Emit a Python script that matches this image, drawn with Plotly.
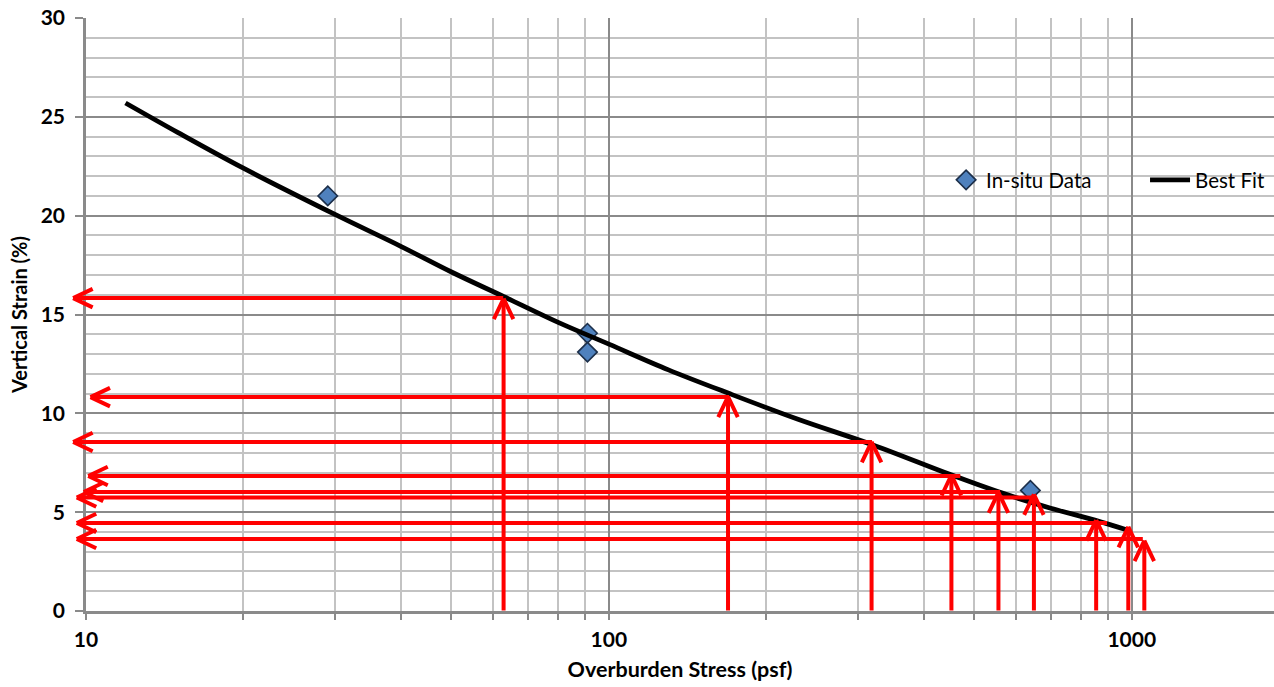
import math
import plotly.graph_objects as go

# ---------------- data ----------------
insitu_stress = [29, 91, 91, 640]
insitu_strain = [21.0, 14.05, 13.1, 6.1]

fit_stress = [11.9, 15, 20, 30, 40, 50, 63, 80, 100, 130, 170, 230, 320, 450, 560, 700, 850, 980]
fit_strain = [25.7, 24.2, 22.4, 20.05, 18.45, 17.15, 15.9, 14.6, 13.5, 12.2, 11.0, 9.7, 8.4, 6.9, 6.0, 5.2, 4.6, 4.1]

# vertical red arrows: stress position and strain reached at arrow tip
v_arrow_stress = [62.9, 169, 318, 452, 556, 650, 855, 985, 1057]
v_arrow_top = [15.8, 10.85, 8.56, 6.88, 6.0, 5.9, 4.6, 4.26, 3.56]

# horizontal red arrows: strain level, right end (stress), left tip (stress)
h_arrow_strain = [15.83, 10.82, 8.55, 6.83, 6.02, 5.74, 4.45, 3.64]
h_arrow_right = [62.8, 169.8, 318.7, 470, 560, 648, 897, 1050]
h_arrow_left = [9.45, 10.2, 9.45, 10.1, 9.9, 9.6, 9.6, 9.6]

y_ticks = [0, 5, 10, 15, 20, 25, 30]

# ---------------- layout geometry (body margin removed below) ----------------
W, H = 1274, 687
ML, MR, MT, MB = 85.7, 0, 18, 76
PLOT_W = W - ML - MR
PLOT_H = H - MT - MB
X_RANGE = [1.0, 1.0 + PLOT_W / 523.0]
Y_RANGE = [0, 30]
PX_PER_DEC = PLOT_W / (X_RANGE[1] - X_RANGE[0])
PX_PER_UNIT = PLOT_H / (Y_RANGE[1] - Y_RANGE[0])

RED = "#ff0000"
AW = 4
MAJ = "#8a8a8a"
MIN = "#c3c3c3"
FONT = "Lato"

fig = go.Figure()

fig.add_trace(go.Scatter(
    x=insitu_stress, y=insitu_strain, mode="markers", name="In-situ Data",
    marker=dict(symbol="diamond", size=15, color="#4f81bd",
                line=dict(color="#1c2f4a", width=1.6)),
    legend="legend",
))
fig.add_trace(go.Scatter(
    x=fit_stress, y=fit_strain, mode="lines", name="Best Fit",
    line=dict(color="black", width=4.8, shape="spline", smoothing=1.0),
    legend="legend2",
))

annotations = []


def seg(xh, yh, xt, yt):
    """arrow segment with head at (xh,yh) and tail at (xt,yt); x in log10 units"""
    annotations.append(dict(
        x=xh, y=yh, ax=xt, ay=yt, xref="x", yref="y", axref="x", ayref="y",
        text="", showarrow=True, arrowhead=0, arrowwidth=AW, arrowcolor=RED,
        standoff=0, startstandoff=0, font=dict(size=1), borderpad=0,
    ))


def chevron_up(lx, y):
    dx = 10 / PX_PER_DEC
    dy = 21 / PX_PER_UNIT
    seg(lx, y, lx - dx, y - dy)
    seg(lx, y, lx + dx, y - dy)


def chevron_left(lx, y):
    dx = 20 / PX_PER_DEC
    dy = 9.5 / PX_PER_UNIT
    seg(lx, y, lx + dx, y + dy)
    seg(lx, y, lx + dx, y - dy)


for xs, top in zip(v_arrow_stress, v_arrow_top):
    lx = math.log10(xs)
    seg(lx, top, lx, 0)
    chevron_up(lx, top)

for yv, xr, xl in zip(h_arrow_strain, h_arrow_right, h_arrow_left):
    seg(math.log10(xr), yv, math.log10(xl), yv)
    chevron_left(math.log10(xl), yv)

LEG_Y = (PLOT_H + MT - 180) / PLOT_H
leg_common = dict(orientation="h", yanchor="middle", xanchor="left",
                  bgcolor="rgba(0,0,0,0)",
                  font=dict(family=FONT, size=20.5, color="black"))

fig.update_layout(
    width=W, height=H,
    margin=dict(l=ML, r=MR, t=MT, b=MB, pad=0),
    paper_bgcolor="white", plot_bgcolor="white",
    showlegend=True,
    legend=dict(x=(946 - ML) / PLOT_W, y=LEG_Y, itemwidth=30, **leg_common),
    legend2=dict(x=(1145 - ML) / PLOT_W, y=LEG_Y, itemwidth=40, **leg_common),
    annotations=annotations,
)

fig.update_xaxes(
    type="log", range=X_RANGE, dtick=1, exponentformat="none",
    showgrid=True, gridcolor=MAJ, gridwidth=2,
    ticks="outside", ticklen=6, tickwidth=2, tickcolor=MAJ,
    showline=True, linecolor=MAJ, linewidth=2.5, zeroline=False,
    minor=dict(dtick="D1", showgrid=True, gridcolor=MIN, gridwidth=2,
               ticks="outside", ticklen=6, tickwidth=2, tickcolor=MAJ),
    tickfont=dict(family=FONT, size=21, color="black", weight="bold"),
    ticklabelstandoff=2, ticklabeloverflow="allow",
    title=dict(text="Overburden Stress (psf)", standoff=12,
               font=dict(family=FONT, size=21.5, color="black", weight="bold")),
    automargin=False,
)

fig.update_yaxes(
    range=Y_RANGE, tickvals=y_ticks,
    showgrid=True, gridcolor=MAJ, gridwidth=2,
    ticks="outside", ticklen=8, tickwidth=2, tickcolor=MAJ,
    showline=True, linecolor=MAJ, linewidth=2.5, zeroline=False,
    minor=dict(dtick=1, showgrid=True, gridcolor=MIN, gridwidth=2),
    tickfont=dict(family=FONT, size=21, color="black", weight="bold"),
    ticklabelstandoff=6, ticklabeloverflow="allow",
    title=dict(text="Vertical Strain (%)", standoff=8,
               font=dict(family=FONT, size=20, color="black", weight="bold")),
    automargin=False,
)

fig.write_html(
    "out.html",
    config={"displayModeBar": False},
    post_script="document.body.style.margin='0';document.body.style.overflow='hidden';",
)
